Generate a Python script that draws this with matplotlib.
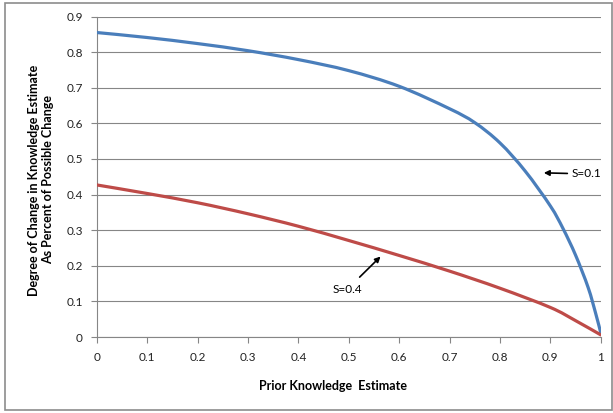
import numpy as np
import matplotlib.pyplot as plt
from matplotlib.patches import Rectangle, PathPatch
from matplotlib.path import Path

# values
prior_blue = [0, 0.1, 0.2, 0.3, 0.4, 0.5, 0.6, 0.7, 0.75, 0.8, 0.85, 0.9, 0.925, 0.95, 0.975, 0.99, 1.0]
change_s01 = [0.855, 0.841, 0.824, 0.804, 0.779, 0.748, 0.704, 0.641, 0.602, 0.545, 0.466, 0.368, 0.305, 0.230, 0.139, 0.066, 0.012]

prior_red = [0, 0.1, 0.2, 0.3, 0.4, 0.5, 0.6, 0.7, 0.8, 0.9, 0.95, 1.0]
change_s04 = [0.427, 0.403, 0.377, 0.346, 0.311, 0.271, 0.229, 0.185, 0.137, 0.083, 0.046, 0.006]

xticks = np.round(np.arange(0, 1.01, 0.1), 1)
xticklabels = ['0', '0.1', '0.2', '0.3', '0.4', '0.5', '0.6', '0.7', '0.8', '0.9', '1']
yticks = np.round(np.arange(0, 0.91, 0.1), 1)
yticklabels = ['0', '0.1', '0.2', '0.3', '0.4', '0.5', '0.6', '0.7', '0.8', '0.9']

plt.rcParams['font.family'] = ['Lato', 'DejaVu Sans']
grey = '#868686'


def smooth_line(ax, xs, ys, color):
    # excel style "smoothed line": bezier segments through the points
    x = np.asarray(xs, float)
    y = np.asarray(ys, float)
    verts = [(x[0], y[0])]
    codes = [Path.MOVETO]
    n = len(x)
    for i in range(n - 1):
        x0, y0 = (x[i - 1], y[i - 1]) if i > 0 else (x[i], y[i])
        x3, y3 = (x[i + 2], y[i + 2]) if i + 2 < n else (x[i + 1], y[i + 1])
        c1 = (x[i] + (x[i + 1] - x0) / 6, y[i] + (y[i + 1] - y0) / 6)
        c2 = (x[i + 1] - (x3 - x[i]) / 6, y[i + 1] - (y3 - y[i]) / 6)
        verts += [c1, c2, (x[i + 1], y[i + 1])]
        codes += [Path.CURVE4] * 3
    ax.add_patch(PathPatch(Path(verts, codes), fill=False, edgecolor=color, lw=2.3,
                           capstyle='round', joinstyle='round', zorder=3))


fig = plt.figure(figsize=(6.13, 4.13), dpi=100)
ax = fig.add_axes([0.158, 0.184, 0.822, 0.776])

smooth_line(ax, prior_blue, change_s01, '#4a7ebb')
smooth_line(ax, prior_red, change_s04, '#be4b48')

ax.set_xlim(0, 1)
ax.set_ylim(0, 0.9)
ax.set_xticks(xticks)
ax.set_xticklabels(xticklabels)
ax.set_yticks(yticks)
ax.set_yticklabels(yticklabels)
ax.grid(axis='y', color=grey, lw=0.8)
ax.set_axisbelow(True)
for side in ['top', 'right']:
    ax.spines[side].set_visible(False)
for side in ['left', 'bottom']:
    ax.spines[side].set_color(grey)
    ax.spines[side].set_linewidth(0.8)
ax.tick_params(axis='x', length=4, width=0.8, color=grey, pad=7, labelsize=8.5, labelcolor='#222222')
ax.tick_params(axis='y', length=4, width=0.8, color=grey, pad=6, labelsize=8.5, labelcolor='#222222')

ax.annotate('S=0.1', xy=(0.887, 0.461), xytext=(0.942, 0.458),
            fontsize=8.5, va='center', ha='left',
            arrowprops=dict(arrowstyle='-|>', color='black', lw=1.2, mutation_scale=8, shrinkA=1, shrinkB=0))
ax.annotate('S=0.4', xy=(0.563, 0.226), xytext=(0.497, 0.134),
            fontsize=8.5, va='center', ha='center',
            arrowprops=dict(arrowstyle='-|>', color='black', lw=1.2, mutation_scale=8, shrinkA=4, shrinkB=0))

fig.text(333 / 613, 1 - 386 / 413, 'Prior Knowledge  Estimate', fontsize=9, fontweight='bold',
         ha='center', va='center')
fig.text(41 / 613, 1 - 180 / 413, 'Degree of Change in Knowledge Estimate\nAs Percent of Possible Change',
         fontsize=9, fontweight='bold', rotation=90, ha='center', va='center', linespacing=1.15)

fig.patches.append(Rectangle((5 / 613, 3 / 413), 607 / 613, 407 / 413, transform=fig.transFigure,
                             fill=False, edgecolor='#8c8c8c', lw=1.2))

fig.savefig('out.png', dpi=100)
